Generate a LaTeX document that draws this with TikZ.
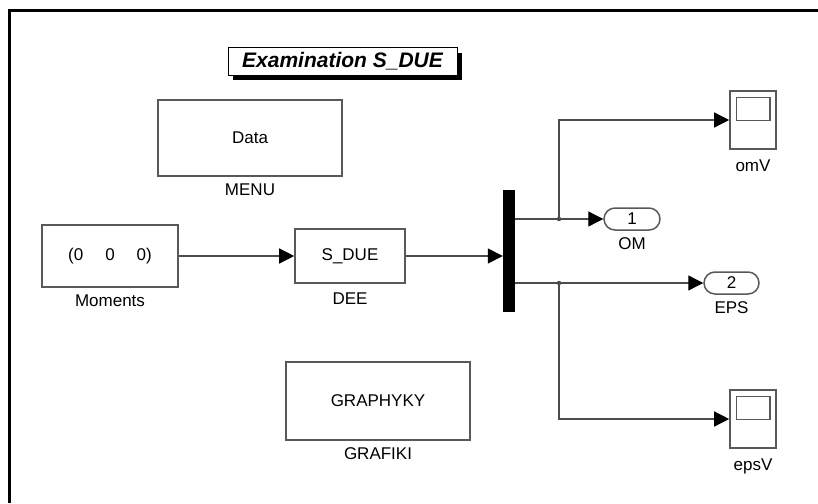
\documentclass[tikz,border=0pt]{standalone}
\usepackage{fontspec}
\setmainfont{Liberation Sans}
\usetikzlibrary{arrows.meta,positioning,shapes.misc,shadows}

\begin{document}
\begin{tikzpicture}[x=1pt,y=-1pt,
    blk/.style={rectangle,draw=black!65,line width=1.6pt,fill=white,font=\fontsize{17}{19}\selectfont},
    lbl/.style={font=\fontsize{17}{19}\selectfont,inner sep=1pt},
    port/.style={rounded rectangle,draw=black!65,line width=1.5pt,minimum width=56pt,minimum height=22pt,inner sep=0pt,font=\fontsize{17}{19}\selectfont},
    scope/.style={rectangle,draw=black!65,line width=1.6pt,minimum width=46pt,minimum height=58pt},
    sig/.style={draw=black!70,line width=1.3pt,-{Triangle[length=15pt,width=15pt,color=black]}},
    wire/.style={draw=black!70,line width=1.3pt}]
    \useasboundingbox (0,0) rectangle (818,503);

    % frame
    \draw[line width=3pt] (9,503) -- (9,11) -- (818,11);

    % title
    \node[draw,line width=1pt,fill=white,minimum width=229pt,minimum height=27pt,inner sep=0pt,
          drop shadow={shadow xshift=5pt,shadow yshift=-5pt,fill=black,opacity=1},
          font=\fontsize{21}{23}\selectfont\bfseries\itshape] (title) at (342.5,61.5) {Examination S\_DUE};

    % blocks
    \node[blk,minimum width=184pt,minimum height=76pt] (data) at (250,138) {Data};
    \node[lbl,below=6pt of data] (menu) {MENU};

    \node[blk,minimum width=136pt,minimum height=62pt] (mom) at (110,256) {(0\hspace{22pt}0\hspace{22pt}0)};
    \node[lbl,below=6pt of mom] (momlbl) {Moments};

    \node[blk,minimum width=110pt,minimum height=54pt] (dee) at (350,256) {S\_DUE};
    \node[lbl,below=8pt of dee] (deelbl) {DEE};

    \node[blk,minimum width=184pt,minimum height=78pt] (graf) at (378,401) {GRAPHYKY};
    \node[lbl,below=6pt of graf] (graflbl) {GRAFIKI};

    % mux
    \node[rectangle,fill=black,minimum width=12pt,minimum height=122pt,inner sep=0pt] (mux) at (509,251) {};

    % outputs
    \node[port] (om) at (632,219) {1};
    \node[lbl,below=6pt of om] (omlbl) {OM};
    \node[port,minimum width=55pt] (eps) at (731.5,283) {2};
    \node[lbl,below=6pt of eps] (epslbl) {EPS};

    % scopes
    \node[scope] (omv) at (753,120) {};
    \draw[draw=black!65,line width=1.4pt] ([shift={(7,7)}]omv.north west) rectangle ([shift={(-7,30)}]omv.north east);
    \node[lbl,below=9pt of omv] (omvlbl) {omV};
    \node[scope] (epsv) at (753,419) {};
    \draw[draw=black!65,line width=1.4pt] ([shift={(7,7)}]epsv.north west) rectangle ([shift={(-7,30)}]epsv.north east);
    \node[lbl,below=9pt of epsv] (epsvlbl) {epsV};

    % signals
    \draw[sig] (mom.east) -- (dee.west);
    \draw[sig] (dee.east) -- (dee.east -| mux.west);
    \draw[sig] (mux.east |- om.west) -- (om.west);
    \draw[sig] (mux.east |- eps.west) -- (eps.west);

    \coordinate (b1) at (559,219);
    \coordinate (b2) at (559,283);
    \draw[sig] (b1) |- (omv.west);
    \draw[sig] (b2) |- (epsv.west);
    \fill[black!70] (b1) circle (2.2pt) (b2) circle (2.2pt);
\end{tikzpicture}
\end{document}
